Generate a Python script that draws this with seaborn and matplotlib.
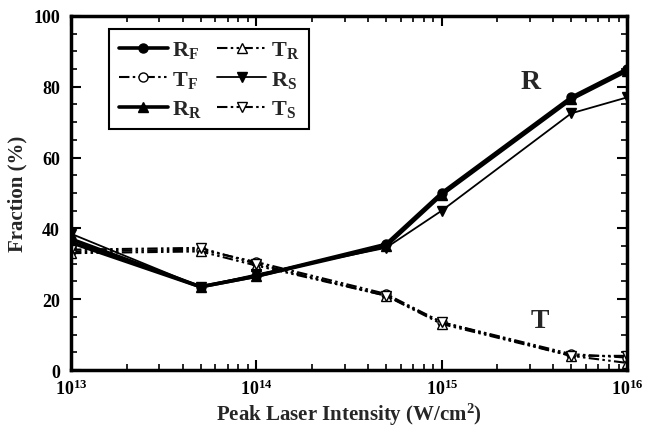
import matplotlib
matplotlib.use("Agg")
import matplotlib.pyplot as plt
import seaborn as sns
import pandas as pd
import numpy as np
from matplotlib.ticker import LogLocator, MultipleLocator, FixedLocator, FixedFormatter, NullFormatter

intensity = [1e13, 5e13, 1e14, 5e14, 1e15, 5e15, 1e16]
R_F = [37, 23.5, 26.5, 35.5, 50, 77, 85]
R_R = [36, 23.5, 26.5, 35, 49.5, 76.5, 84.5]
R_S = [38.5, 23.5, 27, 34.5, 45, 72.5, 77]
T_F = [33.5, 34, 30.5, 21.5, 13.5, 4.5, 3.5]
T_R = [33, 33.5, 29.5, 21, 13, 4, 2]
T_S = [34, 34.5, 30, 21, 13.5, 4, 4]
xticks = [1e13, 1e14, 1e15, 1e16]
xticklabels = [r'$\mathbf{10^{13}}$', r'$\mathbf{10^{14}}$', r'$\mathbf{10^{15}}$', r'$\mathbf{10^{16}}$']
yticks = [0, 20, 40, 60, 80, 100]

sns.set_theme(style="ticks")
plt.rcParams['font.family'] = ['Liberation Serif', 'DejaVu Serif']
plt.rcParams['font.weight'] = 'bold'
plt.rcParams['mathtext.fontset'] = 'custom'
plt.rcParams['mathtext.rm'] = 'Liberation Serif:bold'
plt.rcParams['mathtext.bf'] = 'Liberation Serif:bold'
plt.rcParams['mathtext.it'] = 'Liberation Serif:bold'

fig = plt.figure(figsize=(6.49, 4.31), dpi=100)
ax = fig.add_axes([0.1094, 0.1392, 0.8567, 0.8214])

dd = (0, (5, 1.6, 1.2, 1.6, 1.2, 1.6))
series = [
    ("R_F", R_F, dict(marker='o', mfc='black', lw=2.6, ls='-'), r'$\mathbf{R_F}$'),
    ("T_F", T_F, dict(marker='o', mfc='white', lw=1.5, ls=dd), r'$\mathbf{T_F}$'),
    ("R_R", R_R, dict(marker='^', mfc='black', lw=2.6, ls='-'), r'$\mathbf{R_R}$'),
    ("T_R", T_R, dict(marker='^', mfc='white', lw=1.5, ls=dd), r'$\mathbf{T_R}$'),
    ("R_S", R_S, dict(marker='v', mfc='black', lw=1.3, ls='-'), r'$\mathbf{R_S}$'),
    ("T_S", T_S, dict(marker='v', mfc='white', lw=1.5, ls=dd), r'$\mathbf{T_S}$'),
]

for name, vals, st, lab in series:
    df = pd.DataFrame({"x": intensity, "y": vals})
    sns.lineplot(data=df, x="x", y="y", ax=ax, color='black', marker=st['marker'],
                 markersize=6.5, markerfacecolor=st['mfc'], markeredgecolor='black',
                 markeredgewidth=1.0, linewidth=st['lw'], linestyle=st['ls'], label=lab)

ax.set_xscale('log')
ax.set_xlim(1e13, 1e16)
ax.set_ylim(0, 100)
ax.xaxis.set_major_locator(FixedLocator(xticks))
ax.xaxis.set_major_formatter(FixedFormatter(xticklabels))
ax.xaxis.set_minor_locator(LogLocator(base=10, subs=np.arange(2, 10)))
ax.xaxis.set_minor_formatter(NullFormatter())
ax.yaxis.set_major_locator(FixedLocator(yticks))
ax.yaxis.set_minor_locator(MultipleLocator(5))

for s in ax.spines.values():
    s.set_linewidth(2.5)
    s.set_color('black')
    s.set_visible(True)

ax.tick_params(which='both', direction='in', top=True, right=True, colors='black')
ax.tick_params(which='major', length=7, width=1.5, labelsize=13)
ax.tick_params(which='minor', length=4, width=1.2)
ax.tick_params(axis='x', which='major', pad=6)
ax.tick_params(axis='y', which='major', pad=8)
for lbl in ax.get_yticklabels():
    lbl.set_fontweight('bold')

ax.set_xlabel('Peak Laser Intensity (W/cm$^\\mathbf{2}$)', fontsize=15, fontweight='bold')
ax.xaxis.set_label_coords(0.5, -0.088)
ax.set_ylabel('Fraction (%)', fontsize=15, fontweight='bold', labelpad=4)

ax.text(3.0e15, 81.5, 'R', fontsize=20, fontweight='bold', ha='center', va='center')
ax.text(3.4e15, 14, 'T', fontsize=20, fontweight='bold', ha='center', va='center')

leg = ax.legend(loc='upper left', bbox_to_anchor=(0.068, 0.962), borderaxespad=0, ncol=2,
                fontsize=16, frameon=True, fancybox=False, edgecolor='black', handlelength=2.2,
                handletextpad=0.2, columnspacing=0.7, labelspacing=0.38, borderpad=0.45)
leg.get_frame().set_linewidth(1.5)
leg.get_frame().set_facecolor('white')
leg.get_frame().set_alpha(1)

fig.savefig('out.png', dpi=100)
